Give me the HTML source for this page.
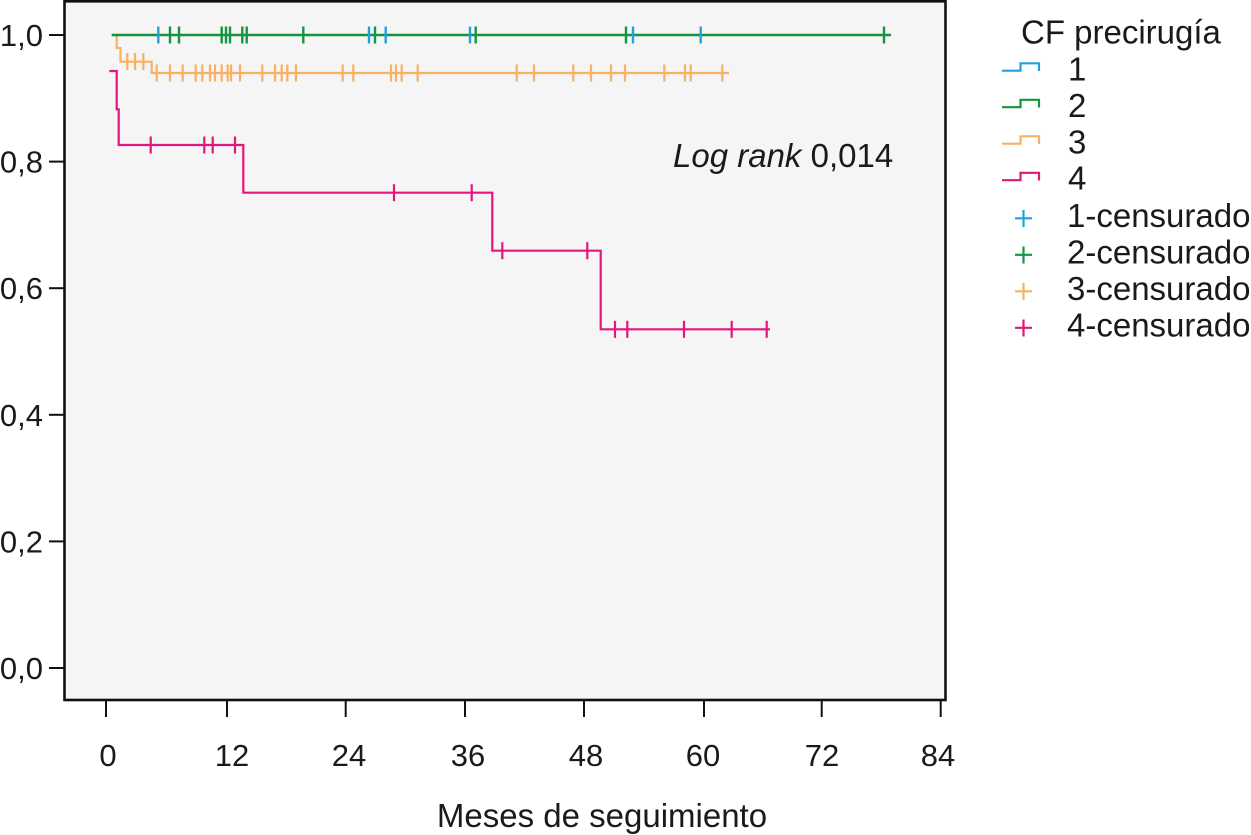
<!DOCTYPE html>
<html>
<head>
<meta charset="utf-8">
<style>
html,body{margin:0;padding:0;background:#fff;}
svg{display:block;}
text{font-family:"Liberation Sans",Arial,sans-serif;fill:#1a1a1a;}
</style>
</head>
<body>
<svg width="1251" height="835" viewBox="0 0 1251 835" xmlns="http://www.w3.org/2000/svg">
  <!-- plot area -->
  <rect x="64.5" y="1.3" width="881" height="698.7" fill="#f5f5f5" stroke="#111" stroke-width="2.6"/>

  <!-- y ticks -->
  <g stroke="#111" stroke-width="2">
    <line x1="49" y1="35" x2="64" y2="35"/>
    <line x1="49" y1="161.6" x2="64" y2="161.6"/>
    <line x1="49" y1="288.2" x2="64" y2="288.2"/>
    <line x1="49" y1="414.8" x2="64" y2="414.8"/>
    <line x1="49" y1="541.4" x2="64" y2="541.4"/>
    <line x1="49" y1="668" x2="64" y2="668"/>
  </g>
  <g font-size="31" text-anchor="end">
    <text x="43" y="46">1,0</text>
    <text x="43" y="172.6">0,8</text>
    <text x="43" y="299.2">0,6</text>
    <text x="43" y="425.8">0,4</text>
    <text x="43" y="552.4">0,2</text>
    <text x="43" y="679">0,0</text>
  </g>

  <!-- x ticks -->
  <g stroke="#111" stroke-width="2">
    <line x1="106" y1="700" x2="106" y2="717"/>
    <line x1="227" y1="700" x2="227" y2="717"/>
    <line x1="345.7" y1="700" x2="345.7" y2="717"/>
    <line x1="465" y1="700" x2="465" y2="717"/>
    <line x1="584" y1="700" x2="584" y2="717"/>
    <line x1="704" y1="700" x2="704" y2="717"/>
    <line x1="821.7" y1="700" x2="821.7" y2="717"/>
    <line x1="940.7" y1="700" x2="940.7" y2="717"/>
  </g>
  <g font-size="31" text-anchor="middle">
    <text x="108" y="766">0</text>
    <text x="232" y="766">12</text>
    <text x="349" y="766">24</text>
    <text x="468" y="766">36</text>
    <text x="586" y="766">48</text>
    <text x="703" y="766">60</text>
    <text x="822" y="766">72</text>
    <text x="938" y="766">84</text>
  </g>
  <text x="602" y="827" font-size="33" text-anchor="middle">Meses de seguimiento</text>

  <!-- Log rank -->
  <text x="673" y="167" font-size="33"><tspan font-style="italic">Log rank</tspan> 0,014</text>

  <!-- Series 3 (orange) -->
  <path d="M116.7,35 V48 H120.5 V61.7 H151.7 V73 H729" fill="none" stroke="#f8b064" stroke-width="2.2"/>
  <g stroke="#f8b064" stroke-width="2.2">
    <line x1="127.3" y1="53" x2="127.3" y2="70"/>
    <line x1="135" y1="53" x2="135" y2="70"/>
    <line x1="143.3" y1="53" x2="143.3" y2="70"/>
    <line x1="156.7" y1="64.5" x2="156.7" y2="81.5"/>
    <line x1="170" y1="64.5" x2="170" y2="81.5"/>
    <line x1="182.7" y1="64.5" x2="182.7" y2="81.5"/>
    <line x1="195.7" y1="64.5" x2="195.7" y2="81.5"/>
    <line x1="202.3" y1="64.5" x2="202.3" y2="81.5"/>
    <line x1="210" y1="64.5" x2="210" y2="81.5"/>
    <line x1="215" y1="64.5" x2="215" y2="81.5"/>
    <line x1="221.7" y1="64.5" x2="221.7" y2="81.5"/>
    <line x1="227.7" y1="64.5" x2="227.7" y2="81.5"/>
    <line x1="231" y1="64.5" x2="231" y2="81.5"/>
    <line x1="240" y1="64.5" x2="240" y2="81.5"/>
    <line x1="262.3" y1="64.5" x2="262.3" y2="81.5"/>
    <line x1="275" y1="64.5" x2="275" y2="81.5"/>
    <line x1="281.7" y1="64.5" x2="281.7" y2="81.5"/>
    <line x1="287.3" y1="64.5" x2="287.3" y2="81.5"/>
    <line x1="296" y1="64.5" x2="296" y2="81.5"/>
    <line x1="342.7" y1="64.5" x2="342.7" y2="81.5"/>
    <line x1="353.3" y1="64.5" x2="353.3" y2="81.5"/>
    <line x1="391" y1="64.5" x2="391" y2="81.5"/>
    <line x1="396" y1="64.5" x2="396" y2="81.5"/>
    <line x1="401.7" y1="64.5" x2="401.7" y2="81.5"/>
    <line x1="417.7" y1="64.5" x2="417.7" y2="81.5"/>
    <line x1="516.7" y1="64.5" x2="516.7" y2="81.5"/>
    <line x1="534" y1="64.5" x2="534" y2="81.5"/>
    <line x1="573.3" y1="64.5" x2="573.3" y2="81.5"/>
    <line x1="591" y1="64.5" x2="591" y2="81.5"/>
    <line x1="611" y1="64.5" x2="611" y2="81.5"/>
    <line x1="625" y1="64.5" x2="625" y2="81.5"/>
    <line x1="664.3" y1="64.5" x2="664.3" y2="81.5"/>
    <line x1="685" y1="64.5" x2="685" y2="81.5"/>
    <line x1="690.7" y1="64.5" x2="690.7" y2="81.5"/>
    <line x1="722.3" y1="64.5" x2="722.3" y2="81.5"/>
  </g>

  <!-- Series 2 (green) -->
  <path d="M111.7,35 H891" fill="none" stroke="#16943f" stroke-width="2.4"/>
  <g stroke="#16943f" stroke-width="2.4">
    <line x1="170" y1="26.5" x2="170" y2="43.5"/>
    <line x1="179" y1="26.5" x2="179" y2="43.5"/>
    <line x1="221.7" y1="26.5" x2="221.7" y2="43.5"/>
    <line x1="226" y1="26.5" x2="226" y2="43.5"/>
    <line x1="230" y1="26.5" x2="230" y2="43.5"/>
    <line x1="242.3" y1="26.5" x2="242.3" y2="43.5"/>
    <line x1="246.7" y1="26.5" x2="246.7" y2="43.5"/>
    <line x1="303.3" y1="26.5" x2="303.3" y2="43.5"/>
    <line x1="375" y1="26.5" x2="375" y2="43.5"/>
    <line x1="475.7" y1="26.5" x2="475.7" y2="43.5"/>
    <line x1="626" y1="26.5" x2="626" y2="43.5"/>
    <line x1="884" y1="26.5" x2="884" y2="43.5"/>
  </g>
  <!-- Series 1 censored (blue) -->
  <g stroke="#1ea2e0" stroke-width="2.4">
    <line x1="158.3" y1="26.5" x2="158.3" y2="43.5"/>
    <line x1="369" y1="26.5" x2="369" y2="43.5"/>
    <line x1="385.7" y1="26.5" x2="385.7" y2="43.5"/>
    <line x1="470" y1="26.5" x2="470" y2="43.5"/>
    <line x1="633" y1="26.5" x2="633" y2="43.5"/>
    <line x1="700.7" y1="26.5" x2="700.7" y2="43.5"/>
  </g>

  <!-- Series 4 (pink) -->
  <path d="M109.3,71 H116.7 V109.3 H118.7 V145 H243.3 V192.7 H492.3 V250.7 H600.7 V329.3 H770" fill="none" stroke="#e4167d" stroke-width="2.2"/>
  <g stroke="#e4167d" stroke-width="2.2">
    <line x1="150.7" y1="136.5" x2="150.7" y2="153.5"/>
    <line x1="204.3" y1="136.5" x2="204.3" y2="153.5"/>
    <line x1="212.7" y1="136.5" x2="212.7" y2="153.5"/>
    <line x1="235" y1="136.5" x2="235" y2="153.5"/>
    <line x1="394" y1="184.2" x2="394" y2="201.2"/>
    <line x1="471.7" y1="184.2" x2="471.7" y2="201.2"/>
    <line x1="502.3" y1="242.2" x2="502.3" y2="259.2"/>
    <line x1="587.3" y1="242.2" x2="587.3" y2="259.2"/>
    <line x1="615" y1="320.8" x2="615" y2="337.8"/>
    <line x1="627.3" y1="320.8" x2="627.3" y2="337.8"/>
    <line x1="684" y1="320.8" x2="684" y2="337.8"/>
    <line x1="731.7" y1="320.8" x2="731.7" y2="337.8"/>
    <line x1="766.7" y1="320.8" x2="766.7" y2="337.8"/>
  </g>

  <!-- Legend -->
  <text x="1021" y="43.5" font-size="33">CF precirugía</text>
  <g fill="none" stroke-width="2.2">
    <path d="M1002,70.7 H1020.5 V63.3 H1039 V71" stroke="#1ea2e0"/>
    <path d="M1002,107.2 H1020.5 V99.8 H1039 V107.5" stroke="#16943f"/>
    <path d="M1002,143.7 H1020.5 V136.3 H1039 V144" stroke="#f8b064"/>
    <path d="M1002,180.2 H1020.5 V172.8 H1039 V180.5" stroke="#e4167d"/>
  </g>
  <g stroke-width="2.2">
    <path d="M1015,218.3 H1032 M1023.5,210 V227" stroke="#1ea2e0"/>
    <path d="M1015,254.8 H1032 M1023.5,246.5 V263.5" stroke="#16943f"/>
    <path d="M1015,291.3 H1032 M1023.5,283 V300" stroke="#f8b064"/>
    <path d="M1015,327.8 H1032 M1023.5,319.5 V336.5" stroke="#e4167d"/>
  </g>
  <g font-size="33">
    <text x="1068" y="80.5">1</text>
    <text x="1068" y="117">2</text>
    <text x="1068" y="153.5">3</text>
    <text x="1068" y="189.5">4</text>
    <text x="1067" y="227">1-censurado</text>
    <text x="1067" y="263.5">2-censurado</text>
    <text x="1067" y="300">3-censurado</text>
    <text x="1067" y="336.5">4-censurado</text>
  </g>
</svg>
</body>
</html>
